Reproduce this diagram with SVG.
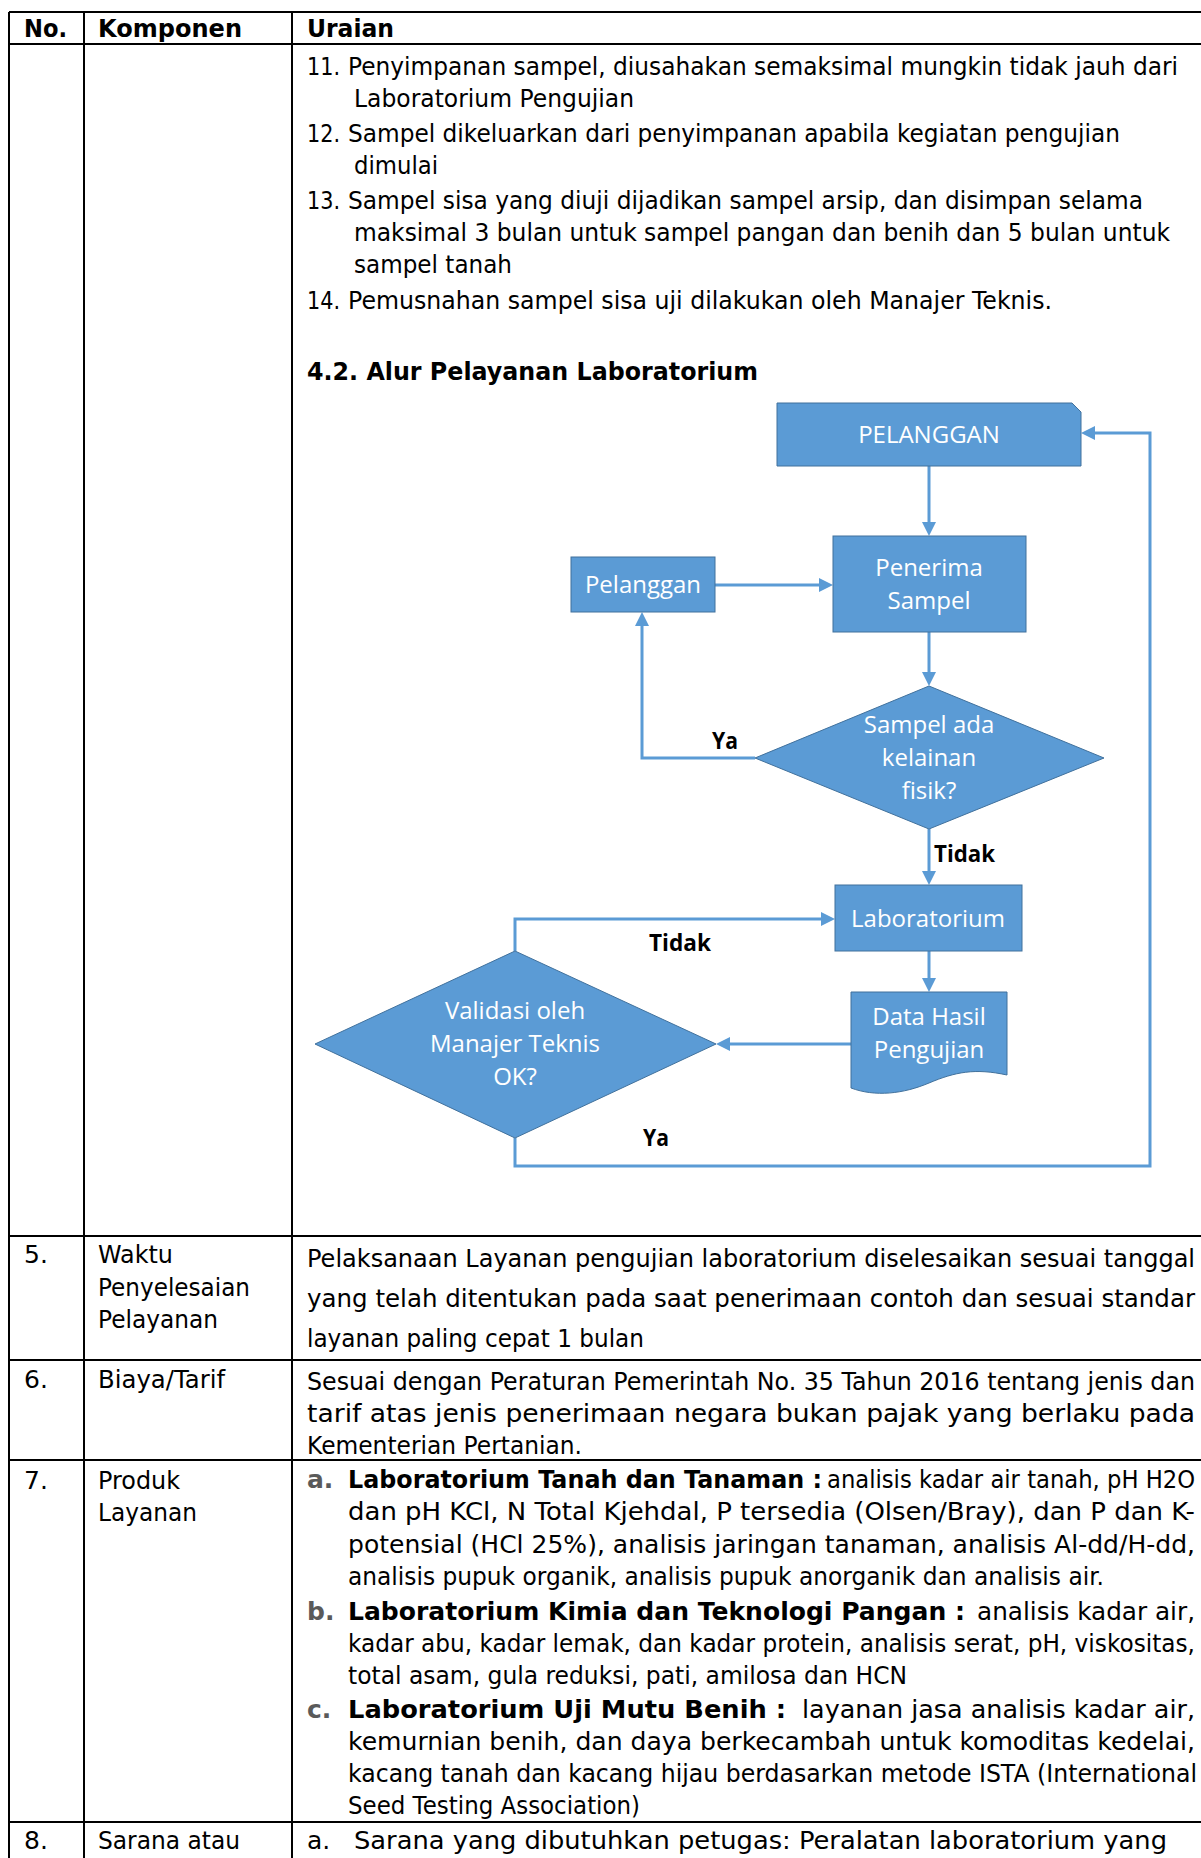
<svg xmlns="http://www.w3.org/2000/svg" width="1201" height="1858" viewBox="0 0 1201 1858">
<style>
.t{font-family:"DejaVu Sans",Verdana,sans-serif;font-size:25px;fill:#000}
.b{font-weight:bold}
.g{fill:#5a5a5a;font-weight:bold}
.fw{font-family:"Open Sans","Liberation Sans",sans-serif;font-size:24px;fill:#fff;text-anchor:middle}
.lb{font-family:"Open Sans","Liberation Sans",sans-serif;font-size:23px;font-weight:bold;fill:#000}
.shape{fill:#5B9BD5;stroke:#41719C;stroke-width:1}
.conn{fill:none;stroke:#5B9BD5;stroke-width:3;marker-end:url(#ah)}
.grid{stroke:#000;stroke-width:2;fill:none}
</style>
<defs>
<marker id="ah" viewBox="0 0 14 14" refX="4" refY="7" markerWidth="14" markerHeight="14" markerUnits="userSpaceOnUse" orient="auto">
<path d="M0,0 L14,7 L0,14 z" fill="#5B9BD5"/>
</marker>
</defs>
<rect width="1201" height="1858" fill="#fff"/>
<g id="table-grid">
<path class="grid" d="M9,12H1201M9,44H1201M9,1236H1201M9,1360H1201M9,1460H1201M9,1822H1201M9,12V1858M84,12V1858M292,12V1858"/>
</g>
<g id="header">
<text class="t b" x="24" y="37" textLength="43" lengthAdjust="spacingAndGlyphs">No.</text>
<text class="t b" x="98" y="37" textLength="144" lengthAdjust="spacingAndGlyphs">Komponen</text>
<text class="t b" x="307" y="37" textLength="87" lengthAdjust="spacingAndGlyphs">Uraian</text>
</g>
<g id="row4-text">
<text class="t" x="307" y="75" textLength="33" lengthAdjust="spacingAndGlyphs">11.</text>
<text class="t" x="348" y="75" textLength="830" lengthAdjust="spacingAndGlyphs">Penyimpanan sampel, diusahakan semaksimal mungkin tidak jauh dari</text>
<text class="t" x="354" y="107" textLength="280" lengthAdjust="spacingAndGlyphs">Laboratorium Pengujian</text>
<text class="t" x="307" y="142" textLength="33" lengthAdjust="spacingAndGlyphs">12.</text>
<text class="t" x="348" y="142" textLength="772" lengthAdjust="spacingAndGlyphs">Sampel dikeluarkan dari penyimpanan apabila kegiatan pengujian</text>
<text class="t" x="354" y="174" textLength="84" lengthAdjust="spacingAndGlyphs">dimulai</text>
<text class="t" x="307" y="209" textLength="33" lengthAdjust="spacingAndGlyphs">13.</text>
<text class="t" x="348" y="209" textLength="795" lengthAdjust="spacingAndGlyphs">Sampel sisa yang diuji dijadikan sampel arsip, dan disimpan selama</text>
<text class="t" x="354" y="241" textLength="816" lengthAdjust="spacingAndGlyphs">maksimal 3 bulan untuk sampel pangan dan benih dan 5 bulan untuk</text>
<text class="t" x="354" y="273" textLength="158" lengthAdjust="spacingAndGlyphs">sampel tanah</text>
<text class="t" x="307" y="309" textLength="33" lengthAdjust="spacingAndGlyphs">14.</text>
<text class="t" x="348" y="309" textLength="704" lengthAdjust="spacingAndGlyphs">Pemusnahan sampel sisa uji dilakukan oleh Manajer Teknis.</text>
<text class="t b" x="307" y="380" textLength="451" lengthAdjust="spacingAndGlyphs">4.2. Alur Pelayanan Laboratorium</text>
</g>
<g id="connectors">
<path class="conn" d="M929,466V526"/>
<path class="conn" d="M715,585H823"/>
<path class="conn" d="M929,632V676"/>
<path class="conn" d="M755,758H642V622"/>
<path class="conn" d="M929,829V875"/>
<path class="conn" d="M929,951V982"/>
<path class="conn" d="M851,1044H726"/>
<path class="conn" d="M515,951V919H825"/>
<path class="conn" d="M515,1138V1166H1150V433H1091"/>
</g>
<g id="node-pelanggan-top">
<path class="shape" d="M777,403H1072L1081,412V466H777Z"/>
<text class="fw" x="929" y="443">PELANGGAN</text>
</g>
<g id="node-penerima">
<rect class="shape" x="833" y="536" width="193" height="96"/>
<text class="fw" x="929" y="576">Penerima</text>
<text class="fw" x="929" y="609">Sampel</text>
</g>
<g id="node-pelanggan">
<rect class="shape" x="571" y="557" width="144" height="55"/>
<text class="fw" x="643" y="593">Pelanggan</text>
</g>
<g id="node-kelainan">
<path class="shape" d="M929,686L1104,758L929,829L755,758Z"/>
<text class="fw" x="929" y="733">Sampel ada</text>
<text class="fw" x="929" y="766">kelainan</text>
<text class="fw" x="929" y="799">fisik?</text>
</g>
<g id="node-laboratorium">
<rect class="shape" x="835" y="885" width="187" height="66"/>
<text class="fw" x="928" y="927">Laboratorium</text>
</g>
<g id="node-data">
<path class="shape" d="M851,992H1007V1075C975,1068 955,1072 929,1083C903,1094 875,1097 851,1088Z"/>
<text class="fw" x="929" y="1025">Data Hasil</text>
<text class="fw" x="929" y="1058">Pengujian</text>
</g>
<g id="node-validasi">
<path class="shape" d="M515,951L716,1044L515,1138L315,1044Z"/>
<text class="fw" x="515" y="1019">Validasi oleh</text>
<text class="fw" x="515" y="1052">Manajer Teknis</text>
<text class="fw" x="515" y="1085">OK?</text>
</g>
<g id="labels">
<text class="lb" x="712" y="749" textLength="26" lengthAdjust="spacingAndGlyphs">Ya</text>
<text class="lb" x="934" y="862" textLength="61" lengthAdjust="spacingAndGlyphs">Tidak</text>
<text class="lb" x="649" y="951" textLength="62" lengthAdjust="spacingAndGlyphs">Tidak</text>
<text class="lb" x="643" y="1146" textLength="26" lengthAdjust="spacingAndGlyphs">Ya</text>
</g>
<g id="row5">
<text class="t" x="24" y="1263">5.</text>
<text class="t" x="98" y="1263" textLength="75" lengthAdjust="spacingAndGlyphs">Waktu</text>
<text class="t" x="98" y="1296" textLength="152" lengthAdjust="spacingAndGlyphs">Penyelesaian</text>
<text class="t" x="98" y="1328" textLength="120" lengthAdjust="spacingAndGlyphs">Pelayanan</text>
<text class="t" x="307" y="1267" textLength="888" lengthAdjust="spacingAndGlyphs">Pelaksanaan Layanan pengujian laboratorium diselesaikan sesuai tanggal</text>
<text class="t" x="307" y="1307" textLength="888" lengthAdjust="spacingAndGlyphs">yang telah ditentukan pada saat penerimaan contoh dan sesuai standar</text>
<text class="t" x="307" y="1347" textLength="337" lengthAdjust="spacingAndGlyphs">layanan paling cepat 1 bulan</text>
</g>
<g id="row6">
<text class="t" x="24" y="1388">6.</text>
<text class="t" x="98" y="1388" textLength="127" lengthAdjust="spacingAndGlyphs">Biaya/Tarif</text>
<text class="t" x="307" y="1390" textLength="888" lengthAdjust="spacingAndGlyphs">Sesuai dengan Peraturan Pemerintah No. 35 Tahun 2016 tentang jenis dan</text>
<text class="t" x="307" y="1422" textLength="888" lengthAdjust="spacingAndGlyphs">tarif atas jenis penerimaan negara bukan pajak yang berlaku pada</text>
<text class="t" x="307" y="1454" textLength="275" lengthAdjust="spacingAndGlyphs">Kementerian Pertanian.</text>
</g>
<g id="row7">
<text class="t" x="24" y="1489">7.</text>
<text class="t" x="98" y="1489" textLength="82" lengthAdjust="spacingAndGlyphs">Produk</text>
<text class="t" x="98" y="1521" textLength="99" lengthAdjust="spacingAndGlyphs">Layanan</text>
<text class="t g" x="307" y="1488">a.</text>
<text class="t b" x="348" y="1488" textLength="474" lengthAdjust="spacingAndGlyphs">Laboratorium Tanah dan Tanaman :</text>
<text class="t" x="827" y="1488" textLength="368" lengthAdjust="spacingAndGlyphs">analisis kadar air tanah, pH H2O</text>
<text class="t" x="348" y="1520" textLength="847" lengthAdjust="spacingAndGlyphs">dan pH KCl, N Total Kjehdal, P tersedia (Olsen/Bray), dan P dan K-</text>
<text class="t" x="348" y="1553" textLength="847" lengthAdjust="spacingAndGlyphs">potensial (HCl 25%), analisis jaringan tanaman, analisis Al-dd/H-dd,</text>
<text class="t" x="348" y="1585" textLength="756" lengthAdjust="spacingAndGlyphs">analisis pupuk organik, analisis pupuk anorganik dan analisis air.</text>
<text class="t g" x="307" y="1620">b.</text>
<text class="t b" x="348" y="1620" textLength="617" lengthAdjust="spacingAndGlyphs">Laboratorium Kimia dan Teknologi Pangan :</text>
<text class="t" x="977" y="1620" textLength="218" lengthAdjust="spacingAndGlyphs">analisis kadar air,</text>
<text class="t" x="348" y="1652" textLength="847" lengthAdjust="spacingAndGlyphs">kadar abu, kadar lemak, dan kadar protein, analisis serat, pH, viskositas,</text>
<text class="t" x="348" y="1684" textLength="559" lengthAdjust="spacingAndGlyphs">total asam, gula reduksi, pati, amilosa dan HCN</text>
<text class="t g" x="307" y="1718">c.</text>
<text class="t b" x="348" y="1718" textLength="438" lengthAdjust="spacingAndGlyphs">Laboratorium Uji Mutu Benih :</text>
<text class="t" x="802" y="1718" textLength="393" lengthAdjust="spacingAndGlyphs">layanan jasa analisis kadar air,</text>
<text class="t" x="348" y="1750" textLength="847" lengthAdjust="spacingAndGlyphs">kemurnian benih, dan daya berkecambah untuk komoditas kedelai,</text>
<text class="t" x="348" y="1782" textLength="849" lengthAdjust="spacingAndGlyphs">kacang tanah dan kacang hijau berdasarkan metode ISTA (International</text>
<text class="t" x="348" y="1814" textLength="292" lengthAdjust="spacingAndGlyphs">Seed Testing Association)</text>
</g>
<g id="row8">
<text class="t" x="24" y="1849">8.</text>
<text class="t" x="98" y="1849" textLength="142" lengthAdjust="spacingAndGlyphs">Sarana atau</text>
<text class="t" x="307" y="1849">a.</text>
<text class="t" x="354" y="1849" textLength="813" lengthAdjust="spacingAndGlyphs">Sarana yang dibutuhkan petugas: Peralatan laboratorium yang</text>
</g>
</svg>
